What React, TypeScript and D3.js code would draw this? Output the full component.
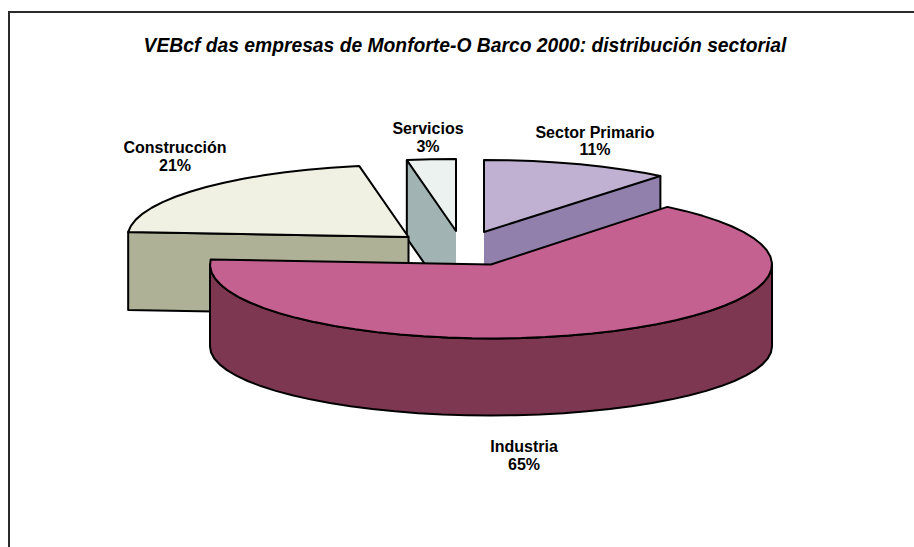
import React from "react";
import * as d3 from "d3";

const categories = ["Sector Primario", "Industria", "Construcción", "Servicios"];
const values = [10.8, 65.3, 21.1, 2.8];
const percentLabels = ["11%", "65%", "21%", "3%"];
const topColors = ["#c0b1d3", "#c46190", "#f0f1e2", "#ecf2ef"];
const sideColors = ["#9180ab", "#7d3751", "#aeb196", "#a2b3b3"];
const title = "VEBcf das empresas de Monforte-O Barco 2000: distribución sectorial";

// Layout (per slice: exploded apex in pixels, vertical radius)
const apexX = [484, 491, 408.5, 456];
const apexY = [232, 264.5, 237, 231];
const radiiY = [72, 74, 72, 72];
const radiusX = 281;
const depth = 78;
const rimDrop = 82;
const rimRadiusY = 69;
const labelX = [595, 524, 175, 428];
const labelY = [137.5, 452, 153, 134];

const pie = d3.pie<number>().sort(null).startAngle(0).endAngle(2 * Math.PI);
const arcs = pie(values);
const toXY = (i: number, a: number): [number, number] => [
  apexX[i] + radiusX * Math.sin(a),
  apexY[i] - radiiY[i] * Math.cos(a),
];
const step = (5 * Math.PI) / 180;
const sweep = (a0: number, a1: number) => [...d3.range(a0, a1, step), a1];
const line = d3.line();
const closed = (pts: [number, number][]) => line(pts) + "Z";

const topFace = (i: number) =>
  closed([
    [apexX[i], apexY[i]],
    ...sweep(arcs[i].startAngle, arcs[i].endAngle).map((a) => toXY(i, a)),
  ]);
const down = (p: [number, number], d = depth): [number, number] => [p[0], p[1] + d];

// Industria outer wall
const indRim = (a: number): [number, number] => [
  apexX[1] + radiusX * Math.sin(a),
  apexY[1] + rimDrop - rimRadiusY * Math.cos(a),
];
const wallAngles = sweep(Math.PI / 2, (3 * Math.PI) / 2);
const industriaWall = closed([
  ...wallAngles.map((a) => toXY(1, a)),
  ...[...wallAngles].reverse().map(indRim),
]);

const S = { stroke: "#000", strokeWidth: 2, strokeLinejoin: "round" as const };

export default function App() {
  const p0 = toXY(0, arcs[0].endAngle);
  const c0 = toXY(2, arcs[2].startAngle);
  const s1 = toXY(3, arcs[3].startAngle);
  const a3: [number, number] = [apexX[3], apexY[3]];
  const a2: [number, number] = [apexX[2], apexY[2]];
  const a0: [number, number] = [apexX[0], apexY[0]];
  return (
    <svg
      width={914}
      height={547}
      style={{ position: "absolute", left: 0, top: 0, background: "#fff", fontFamily: "'Liberation Sans', Arial, sans-serif" }}
    >
      <path d="M9 548V12H915" fill="none" stroke="#2a2a2a" strokeWidth={2} />
      <text x={465} y={52} textAnchor="middle" fontSize={19.3} fontWeight="bold" fontStyle="italic" fill="#000">
        {title}
      </text>

      {/* Servicios */}
      <path d={closed([s1, a3, down(a3), down(s1)])} fill={sideColors[3]} />
      <path d={line([s1, down(s1), down(a3)])!} fill="none" {...S} />
      <path d={topFace(3)} fill={topColors[3]} {...S} />

      {/* Construcción */}
      <path d={closed([c0, a2, down(a2), down(c0)])} fill={sideColors[2]} {...S} />
      <path d={topFace(2)} fill={topColors[2]} {...S} />

      {/* Sector Primario */}
      <path d={closed([a0, p0, down(p0), down(a0)])} fill={sideColors[0]} />
      <path d={line([p0, down(p0)])!} fill="none" {...S} />
      <path d={topFace(0)} fill={topColors[0]} {...S} />

      {/* Industria */}
      <path d={industriaWall} fill={sideColors[1]} {...S} />
      <path d={topFace(1)} fill={topColors[1]} {...S} />

      {categories.map((c, i) => (
        <text key={c} textAnchor="middle" fontSize={16} fontWeight="bold" fill="#000">
          <tspan x={labelX[i]} y={labelY[i]}>{c}</tspan>
          <tspan x={labelX[i]} y={labelY[i] + 17.5}>{percentLabels[i]}</tspan>
        </text>
      ))}
    </svg>
  );
}
